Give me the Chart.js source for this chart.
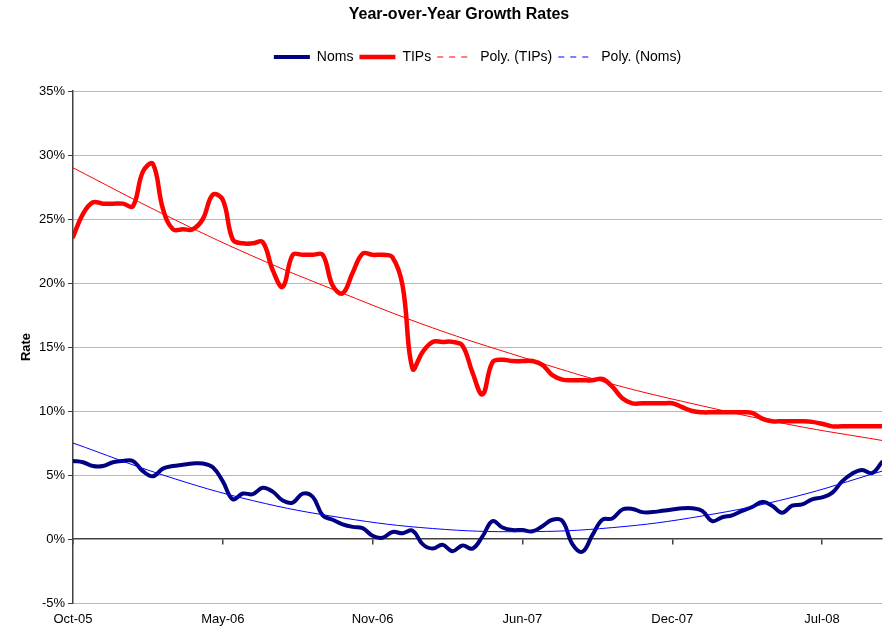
<!DOCTYPE html>
<html>
<head>
<meta charset="utf-8">
<script src="https://cdn.jsdelivr.net/npm/chart.js@4.4.0/dist/chart.umd.min.js"></script>
<style>
  html, body { margin: 0; padding: 0; background: #fff; }
  #wrap { width: 886px; height: 634px; }
</style>
</head>
<body>
<div id="wrap"><canvas id="growthChart"></canvas></div>
<script>
// x tick positions (period index) and their labels
const tickIndex = [0, 15, 30, 45, 60, 75];
const tickLabels = ['Oct-05', 'May-06', 'Nov-06', 'Jun-07', 'Dec-07', 'Jul-08'];

// year-over-year rates in %, one value per period
const noms = [
  6.1, 6.0, 5.7, 5.7, 6.0, 6.1, 6.1, 5.3, 4.9, 5.5,
  5.7, 5.8, 5.9, 5.9, 5.6, 4.5, 3.1, 3.55, 3.5, 4.0,
  3.7, 3.0, 2.85, 3.55, 3.3, 1.85, 1.5, 1.15, 0.95, 0.85,
  0.25, 0.1, 0.55, 0.45, 0.65, -0.4, -0.75, -0.45, -0.95, -0.5,
  -0.75, 0.2, 1.4, 0.9, 0.7, 0.7, 0.6, 1.0, 1.5, 1.4,
  -0.4, -1.0, 0.3, 1.5, 1.6, 2.3, 2.35, 2.1, 2.1, 2.2,
  2.3, 2.4, 2.4, 2.2, 1.4, 1.7, 1.85, 2.2, 2.5, 2.9,
  2.6, 2.05, 2.6, 2.7, 3.1, 3.25, 3.6, 4.5, 5.1, 5.4,
  5.15, 6.0
];
const tips = [
  23.6, 25.4, 26.3, 26.2, 26.2, 26.2, 26.0, 28.7, 29.3, 25.8,
  24.2, 24.2, 24.2, 25.0, 26.9, 26.5, 23.4, 23.1, 23.1, 23.2,
  21.0, 19.7, 22.2, 22.2, 22.2, 22.2, 19.8, 19.2, 20.8, 22.3,
  22.2, 22.2, 22.0, 19.8, 13.3, 14.6, 15.4, 15.4, 15.4, 15.1,
  13.0, 11.3, 13.8, 14.0, 13.9, 13.9, 13.9, 13.6, 12.8, 12.45,
  12.4, 12.4, 12.4, 12.5, 11.9, 11.0, 10.6, 10.6, 10.6, 10.6,
  10.6, 10.3, 10.0, 9.9, 9.9, 9.9, 9.9, 9.9, 9.85, 9.4,
  9.2, 9.2, 9.2, 9.2, 9.15, 9.0, 8.8, 8.8, 8.8, 8.8,
  8.8, 8.8
];

// polynomial trend lines, read at every 9th period
const trendIndex = [0, 9, 18, 27, 36, 45, 54, 63, 72, 81];
const tipsTrend = [29.0, 25.4, 22.1, 19.2, 16.5, 14.2, 12.1, 10.4, 8.9, 7.7];
const nomsTrend = [7.5, 5.0, 3.0, 1.65, 0.82, 0.57, 0.89, 1.8, 3.25, 5.3];

const toPoints = (xs, ys) => ys.map((v, i) => ({ x: xs[i], y: v }));
const periods = noms.map((v, i) => i);
const lastPeriod = periods[periods.length - 1];

Chart.defaults.font.family = '"Liberation Sans", Arial, sans-serif';
Chart.defaults.font.size = 13;
Chart.defaults.color = '#000';

const axisColor = '#404040';
const setTicks = axis => { axis.ticks = tickIndex.map(v => ({ value: v })); };

// chart title, drawn a little right of the canvas centre like the original
const titlePlugin = {
  id: 'titleText',
  afterDraw(chart) {
    const ctx = chart.ctx;
    ctx.save();
    ctx.font = 'bold 16px "Liberation Sans", Arial, sans-serif';
    ctx.fillStyle = '#000';
    ctx.textAlign = 'center';
    ctx.textBaseline = 'middle';
    ctx.fillText('Year-over-Year Growth Rates', 459, 15);
    ctx.restore();
  }
};

new Chart(document.getElementById('growthChart'), {
  type: 'line',
  data: {
    datasets: [{
      label: 'Noms',
      data: toPoints(periods, noms),
      borderColor: '#000080',
      borderWidth: 4,
      order: 1
    }, {
      label: 'TIPs',
      data: toPoints(periods, tips),
      borderColor: '#ff0000',
      borderWidth: 4.5,
      order: 1
    }, {
      label: 'Poly. (TIPs)',
      data: toPoints(trendIndex, tipsTrend),
      borderColor: '#ff0000',
      borderWidth: 1,
      legendDash: [6, 6],
      order: 0
    }, {
      label: 'Poly. (Noms)',
      data: toPoints(trendIndex, nomsTrend),
      borderColor: '#0000ff',
      borderWidth: 1,
      legendDash: [6, 6],
      order: 0
    }]
  },
  options: {
    responsive: true,
    maintainAspectRatio: false,
    animation: false,
    layout: { padding: { top: 44, right: 4, bottom: 6, left: 0 } },
    elements: {
      point: { radius: 0, hoverRadius: 0 },
      line: { tension: 0.4, borderCapStyle: 'round', borderJoinStyle: 'round' }
    },
    scales: {
      x: {
        type: 'linear',
        min: 0,
        max: lastPeriod,
        afterBuildTicks: setTicks,
        afterFit: s => { s.height = 25; },
        grid: { display: false, drawTicks: false, tickLength: 0 },
        border: { display: false },
        ticks: {
          padding: 9,
          maxRotation: 0,
          autoSkip: false,
          callback: (v, i) => tickLabels[i]
        }
      },
      x0: {
        type: 'linear',
        axis: 'x',
        position: { y: 0 },
        min: 0,
        max: lastPeriod,
        afterBuildTicks: setTicks,
        ticks: { display: false },
        grid: { drawOnChartArea: false, drawTicks: true, tickLength: 5, color: axisColor, lineWidth: 1.5 },
        border: { color: axisColor, width: 1.5 }
      },
      y: {
        min: -5,
        max: 35,
        afterFit: s => { s.width = 73; },
        ticks: { stepSize: 5, padding: 3, callback: v => v + '%' },
        grid: {
          color: c => (c.tick && c.tick.value === 0) ? 'rgba(0,0,0,0)' : '#b8b8b8',
          tickColor: axisColor,
          tickLength: 5
        },
        border: { color: axisColor, width: 1.5 },
        title: {
          display: true,
          text: 'Rate',
          font: { weight: 'bold', size: 13 },
          padding: { top: 19, bottom: 0 }
        }
      }
    },
    plugins: {
      title: { display: false },
      // empty spacer between legend and plot
      subtitle: { display: true, text: '', weight: 500, font: { size: 10 }, padding: { top: 0, bottom: 5 } },
      tooltip: { enabled: false },
      legend: {
        position: 'top',
        fullSize: false,
        labels: {
          usePointStyle: true,
          pointStyleWidth: 36,
          boxHeight: 14,
          padding: 6,
          font: { size: 14 },
          sort: (a, b) => a.datasetIndex - b.datasetIndex,
          generateLabels: chart => Chart.defaults.plugins.legend.labels.generateLabels(chart).map(item => {
            const ds = chart.data.datasets[item.datasetIndex];
            item.pointStyle = 'line';
            item.strokeStyle = ds.borderColor;
            item.lineWidth = ds.borderWidth;
            item.lineDash = ds.legendDash || [];
            return item;
          })
        }
      }
    }
  },
  plugins: [titlePlugin]
});
</script>
</body>
</html>
